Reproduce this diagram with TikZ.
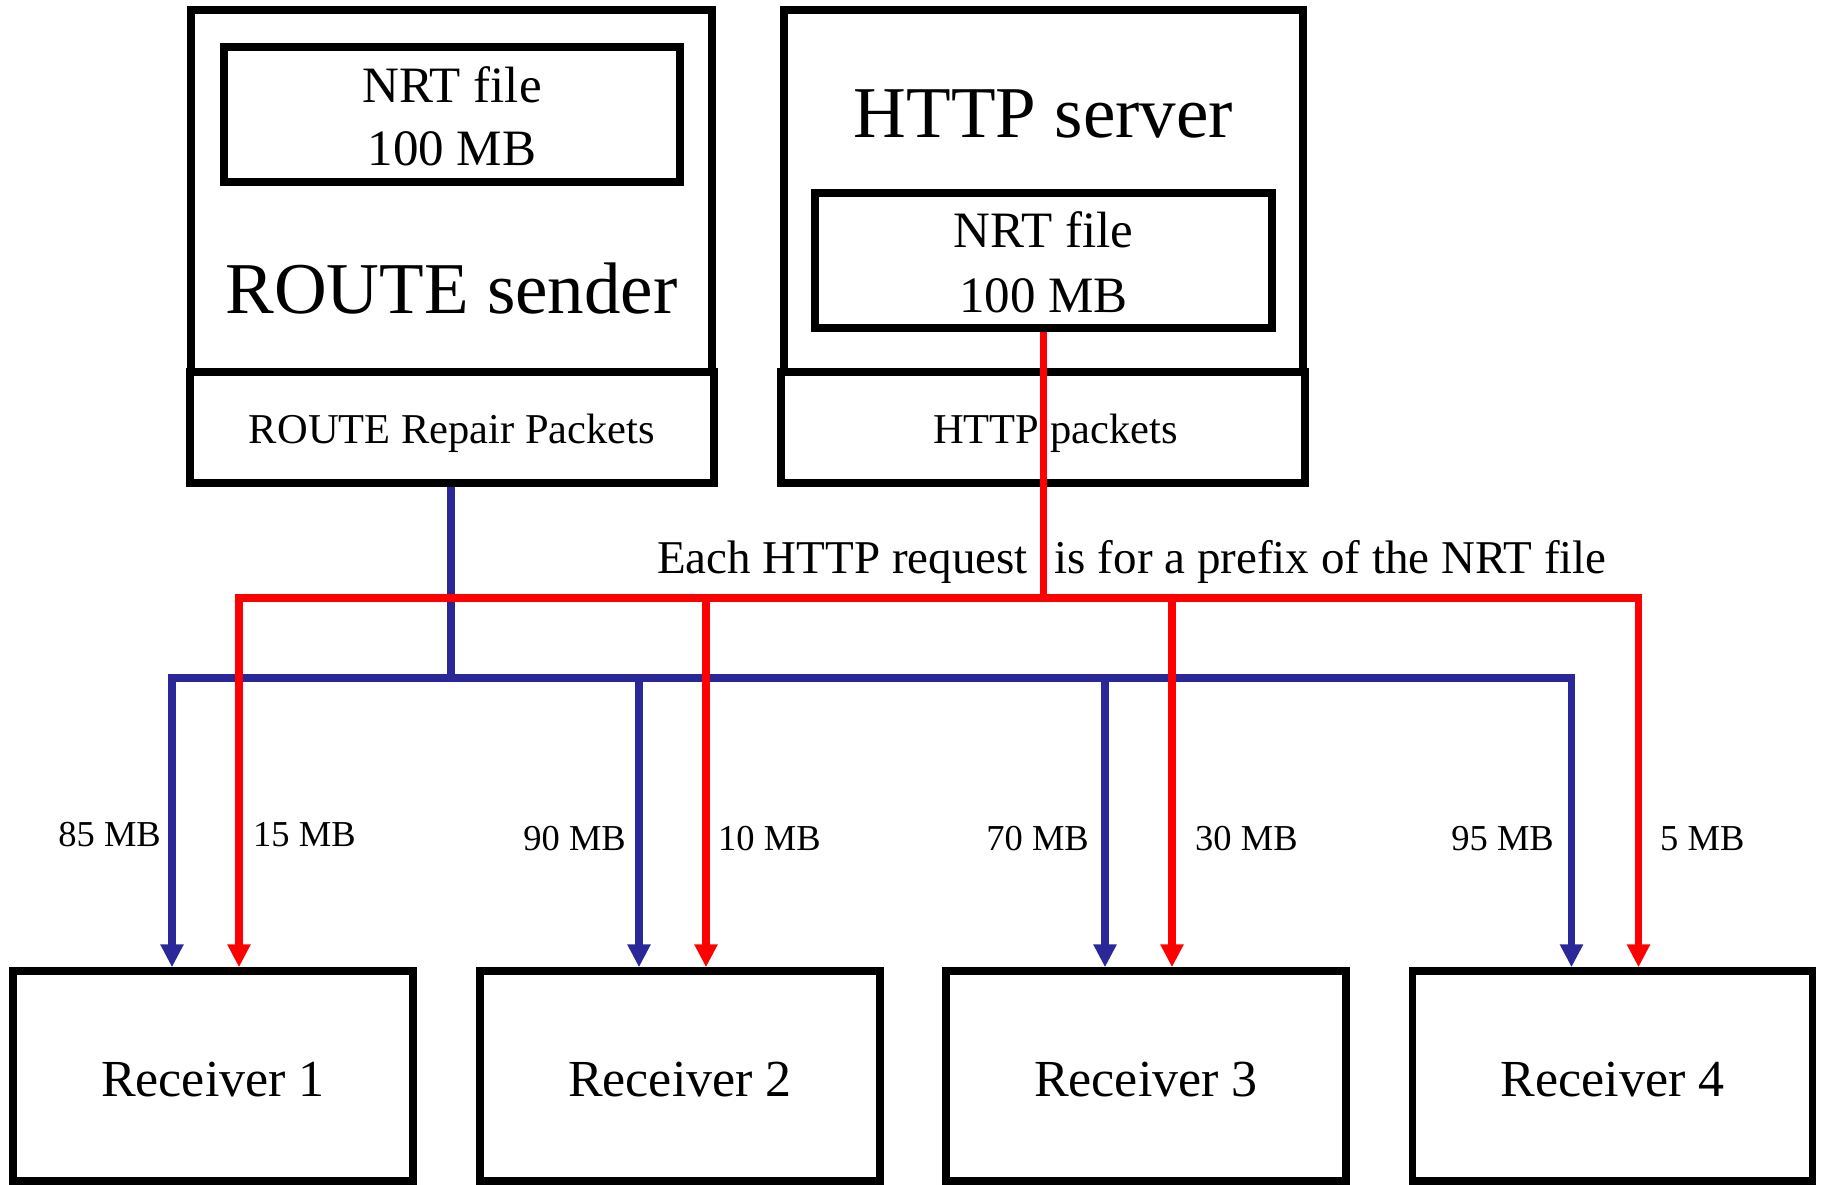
\documentclass[tikz,border=0pt]{standalone}
\usepackage{fontspec}
\setmainfont{Liberation Serif}
\usetikzlibrary{arrows.meta,calc}
\definecolor{repairblue}{RGB}{42,40,153}
\definecolor{httpred}{RGB}{255,0,0}
\begin{document}
\begin{tikzpicture}[x=1pt,y=-1pt,
  box/.style={draw=black, line width=7.5pt, rectangle, inner sep=0pt},
  txt/.style={inner sep=0pt, anchor=base},
  titlefont/.style={font=\fontsize{73}{80}\selectfont},
  filefont/.style={font=\fontsize{51}{56}\selectfont},
  packfont/.style={font=\fontsize{42.5}{46}\selectfont},
  recvfont/.style={font=\fontsize{52}{56}\selectfont},
  amountfont/.style={font=\fontsize{36.5}{40}\selectfont},
  notefont/.style={font=\fontsize{47}{50}\selectfont},
  wire/.style={line width=7.5pt},
  bluewire/.style={wire, draw=repairblue},
  redwire/.style={wire, draw=httpred},
  tip/.style={-{Triangle[length=23pt,width=22pt]}}]

\useasboundingbox (0,0) rectangle (1825,1184);
\fill[white] (0,0) rectangle (1825,1184);

% ROUTE sender with its stored file and repair packet stage
\node[box, minimum width=521pt, minimum height=362pt] (rsend) at (451.5,191) {};
\node[box, minimum width=524pt, minimum height=111pt] (rpack) at (452,427.5) {};
\node[box, minimum width=456pt, minimum height=135pt] (rfile) at (452,114.5) {};
\node[txt, filefont] (rfilename) at (452,102) {NRT file};
\node[txt, filefont] (rfilesize) at (452,165) {100 MB};
\node[txt, titlefont] (rtitle) at (451.5,313) {ROUTE sender};
\node[txt, packfont] (rpacktext) at (452,443) {ROUTE Repair Packets};

% HTTP server with its stored file and packet stage
\node[box, minimum width=519pt, minimum height=362pt] (hsrv) at (1043.5,191) {};
\node[box, minimum width=524pt, minimum height=111pt] (hpack) at (1043,427.5) {};
\node[box, minimum width=457pt, minimum height=135pt] (hfile) at (1043.5,260.5) {};
\node[txt, titlefont] (htitle) at (1043.5,137) {HTTP server};
\node[txt, filefont] (hfilename) at (1043.5,247) {NRT file};
\node[txt, filefont] (hfilesize) at (1043.5,312) {100 MB};
\node[txt, packfont, anchor=base west] (hpacktext) at (933,443) {HTTP packets};

% receivers
\foreach \i/\cx in {1/213,2/680,3/1146,4/1612.5}{
  \node[box, minimum width=400pt, minimum height=210pt] (r\i) at (\cx,1076) {};
  \node[txt, recvfont] (r\i text) at (\cx,1096) {Receiver \i};
}

% repair packet distribution
\coordinate (bbus) at (451,678);
\draw[bluewire] (rpack.south -| bbus) -- (bbus);
\foreach \i in {1,...,4}{
  \draw[bluewire, tip] (bbus) -| ($(r\i.north)+(-41,0)$);
}

% HTTP prefix requests
\coordinate (rbus) at (1043.5,598);
\draw[redwire] (hfile.south) -- (rbus);
\foreach \i in {1,...,4}{
  \draw[redwire, tip] (rbus) -| ($(r\i.north)+(26,0)$);
}

\node[txt, notefont, anchor=base west] (note) at (657,573)
  {Each HTTP request\hspace{27pt}is for a prefix of the NRT file};

% amounts received over each path
\node[txt, amountfont, anchor=base east] (a1) at (161,846) {85 MB};
\node[txt, amountfont, anchor=base east] (a2) at (626,850) {90 MB};
\node[txt, amountfont, anchor=base east] (a3) at (1089,850) {70 MB};
\node[txt, amountfont, anchor=base east] (a4) at (1554,850) {95 MB};
\node[txt, amountfont, anchor=base west] (h1) at (253,846) {15 MB};
\node[txt, amountfont, anchor=base west] (h2) at (718,850) {10 MB};
\node[txt, amountfont, anchor=base west] (h3) at (1195,850) {30 MB};
\node[txt, amountfont, anchor=base west] (h4) at (1660,850) {5 MB};
\end{tikzpicture}
\end{document}
